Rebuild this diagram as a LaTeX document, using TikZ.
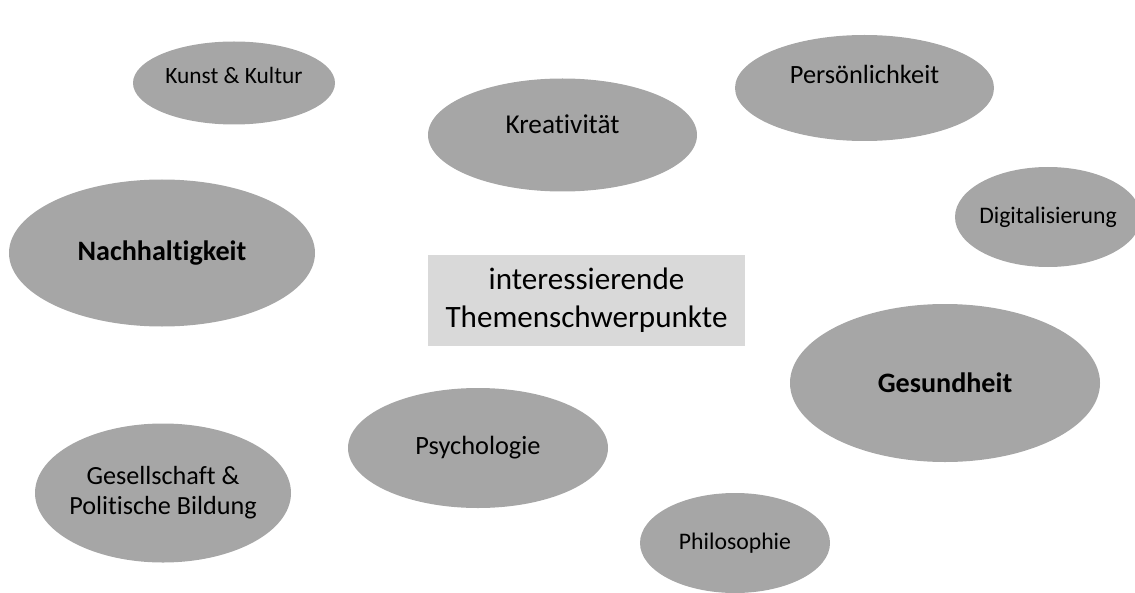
\documentclass[tikz,border=0pt]{standalone}
\usepackage{fontspec}
\setmainfont{Carlito}[Ligatures=NoCommon]
\usepackage{tikz}
\usetikzlibrary{shapes.geometric}
\definecolor{thfill}{RGB}{166,166,166}
\definecolor{thbox}{RGB}{217,217,217}
\tikzset{
  topic/.style={
    ellipse, fill=thfill, draw=none, inner sep=-6pt,
    align=center, text=black, font=\fontsize{15}{17.5}\selectfont
  },
  bigtopic/.style={topic, font=\fontsize{16}{19}\selectfont\bfseries},
  smalltopic/.style={topic, font=\fontsize{13.5}{16}\selectfont},
  lift/.style={text height=10pt, text depth=#1},
  core/.style={
    rectangle, fill=thbox, draw=none, align=center,
    minimum width=6.34cm, minimum height=1.82cm,
    font=\fontsize{17.7}{21.6}\selectfont
  }
}
\begin{document}
\begin{tikzpicture}
  \useasboundingbox (0,0) rectangle (22.7,-11.84);
  \begin{scope}
    \clip (0,0) rectangle (22.7,-11.84);
    % topics around the centre
    \node[topic, lift=9.4pt, font=\fontsize{13.3}{16}\selectfont, minimum width=4.04cm, minimum height=1.66cm] (kunst) at (4.68,-1.66) {Kunst \& Kultur};
    \node[topic, lift=11.8pt, font=\fontsize{15.5}{18}\selectfont, minimum width=5.38cm, minimum height=2.26cm] (kreativ) at (11.25,-2.70) {Kreativität};
    \node[topic, lift=15.2pt, minimum width=5.18cm, minimum height=2.12cm] (person) at (17.29,-1.76) {Persönlichkeit};
    \node[smalltopic, minimum width=3.72cm, minimum height=2.00cm] (digital) at (20.96,-4.34) {Digitalisierung};
    \node[bigtopic, minimum width=6.12cm, minimum height=2.94cm] (nachhalt) at (3.24,-5.06) {Nachhaltigkeit};
    \node[bigtopic, minimum width=6.20cm, minimum height=3.16cm] (gesund) at (18.90,-7.66) {Gesundheit};
    \node[topic, minimum width=5.20cm, minimum height=2.40cm] (psycho) at (9.56,-8.96) {Psychologie};
    \node[topic, font=\fontsize{14.9}{17.2}\selectfont, minimum width=5.12cm, minimum height=2.78cm] (gesell) at (3.26,-9.86) {Gesellschaft \&\\Politische Bildung};
    \node[smalltopic, minimum width=3.80cm, minimum height=2.00cm] (philo) at (14.70,-10.86) {Philosophie};
    % centre box
    \node[core] (themen) at (11.73,-6.01) {interessierende\\Themenschwerpunkte};
  \end{scope}
\end{tikzpicture}
\end{document}
